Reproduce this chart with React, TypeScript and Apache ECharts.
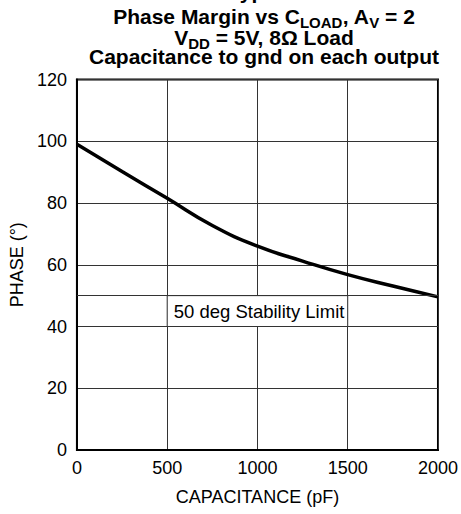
import React, { useEffect, useRef } from "react";
import * as echarts from "echarts";

const capacitance = [0, 250, 500, 750, 1000, 1250, 1500, 1750, 2000];
const phase = [99, 90.2, 81.5, 72.7, 66, 61.2, 56.8, 53.1, 49.6];
const xTicks = [0, 500, 1000, 1500, 2000];
const yTicks = [0, 20, 40, 60, 80, 100, 120];
const stabilityLimit = 50;
const stabilityLabel = "50 deg Stability Limit";
const titleLines = [
  "{m|Typical}",
  "{m|Phase Margin vs C}{s|LOAD}{m|, A}{s|V}{m| = 2}",
  "{m|V}{s|DD}{m| = 5V, 8Ω Load}",
  "{m|Capacitance to gnd on each output}",
];

const FONT = "Liberation Sans, Arial, Helvetica, sans-serif";

export default function App() {
  const ref = useRef<HTMLDivElement>(null);
  useEffect(() => {
    if (!ref.current) return;
    const chart = echarts.init(ref.current, undefined, { renderer: "svg" });
    const rich = {
      m: { fontFamily: FONT, fontWeight: "bold", fontSize: 21, color: "#000", verticalAlign: "bottom", padding: [0, 0, 3, 0] },
      s: { fontFamily: FONT, fontWeight: "bold", fontSize: 15, color: "#000", verticalAlign: "bottom" },
    };
    const titleY = [5, 29.7, 51, 70.2];
    chart.setOption({
      animation: false,
      backgroundColor: "#fff",
      graphic: titleLines.map((t, i) => ({
        type: "text",
        x: 264,
        y: titleY[i],
        style: { text: t, rich, align: "center", verticalAlign: "bottom" },
      })),
      grid: { left: 69, right: 21, top: 79.5, bottom: 64, show: true, borderColor: "#000", borderWidth: 2, containLabel: false },
      xAxis: {
        type: "value",
        min: 0,
        max: 2000,
        interval: 500,
        name: "CAPACITANCE (pF)",
        nameLocation: "middle",
        nameGap: 38,
        nameTextStyle: { fontFamily: FONT, fontSize: 18, color: "#000" },
        axisLine: { show: true, lineStyle: { color: "#000", width: 2 } },
        axisTick: { show: false },
        axisLabel: { fontFamily: FONT, fontSize: 18, color: "#000", margin: 9, formatter: (v: number) => (xTicks.includes(v) ? String(v) : "") },
        splitLine: { show: true, lineStyle: { color: "#333", width: 1 } },
      },
      yAxis: {
        type: "value",
        min: 0,
        max: 120,
        interval: 20,
        name: "PHASE (°)",
        nameLocation: "middle",
        nameGap: 42,
        nameTextStyle: { fontFamily: FONT, fontSize: 18, color: "#000" },
        axisLine: { show: true, lineStyle: { color: "#000", width: 2 } },
        axisTick: { show: false },
        axisLabel: { fontFamily: FONT, fontSize: 18, color: "#000", margin: 10, formatter: (v: number) => (yTicks.includes(v) ? String(v) : "") },
        splitLine: { show: true, lineStyle: { color: "#333", width: 1 } },
      },
      series: [
        {
          type: "line",
          data: capacitance.map((c, i) => [c, phase[i]]),
          smooth: true,
          showSymbol: false,
          lineStyle: { color: "#000", width: 3.5 },
          markLine: {
            silent: true,
            symbol: "none",
            label: { show: false },
            lineStyle: { color: "#333", width: 1, type: "solid" },
            data: [{ yAxis: stabilityLimit }],
          },
          markArea: {
            silent: true,
            itemStyle: { color: "#fff", borderColor: "#333", borderWidth: 1 },
            label: {
              show: true,
              position: "insideLeft",
              distance: 7,
              formatter: stabilityLabel,
              fontFamily: FONT,
              fontSize: 18.5,
              color: "#000",
            },
            data: [[{ coord: [500, stabilityLimit] }, { coord: [1500, 40] }]],
          },
        },
      ],
    });
    return () => chart.dispose();
  }, []);
  return <div ref={ref} style={{ position: "absolute", left: 0, top: 0, width: 461, height: 514 }} />;
}
